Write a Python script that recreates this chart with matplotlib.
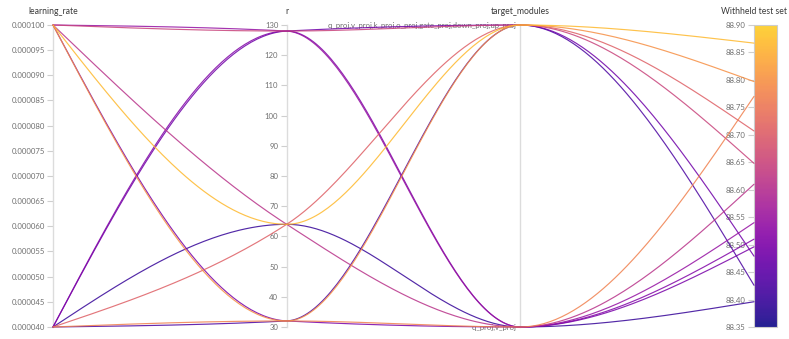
import numpy as np
import matplotlib
matplotlib.use("Agg")
import matplotlib.pyplot as plt
from matplotlib.colors import Normalize, ListedColormap
from matplotlib.cm import ScalarMappable

# runs: one entry per sweep run
learning_rate = [1e-4, 4e-5, 4e-5, 1e-4, 1e-4, 4e-5, 1e-4, 4e-5, 1e-4, 1e-4, 4e-5, 4e-5]
r = [64, 64, 64, 64, 128, 128, 128, 128, 32, 32, 32, 32]
target_modules = ["all", "all", "qv", "qv", "all", "all", "qv", "qv", "all", "qv", "all", "qv"]
withheld = [88.867, 88.707, 88.396, 88.61, 88.648, 88.479, 88.54, 88.51, 88.797, 88.496, 88.426, 88.77]

target_labels = {"all": "q_proj,v_proj,k_proj,o_proj,gate_proj,down_proj,up_proj",
                 "qv": "q_proj,v_proj"}
titles = ["learning_rate", "r", "target_modules", "Withheld test set"]
lr_ticks = [0.00004 + 0.000005 * i for i in range(13)]
r_ticks = list(range(30, 131, 10))
score_ticks = [88.35, 88.40, 88.45, 88.50, 88.55, 88.60, 88.65, 88.70, 88.75, 88.80, 88.85, 88.90]

W, H = 789, 339
X0, X3 = 53, 754
YT, YB = 25, 327
FONT = "Lato"


def monotone_curve(xs, ys, n=80):
    # same as d3 curveMonotoneX
    xs = np.asarray(xs, float)
    ys = np.asarray(ys, float)
    m = len(xs)
    t = np.zeros(m)
    for i in range(1, m - 1):
        h0 = xs[i] - xs[i - 1]
        h1 = xs[i + 1] - xs[i]
        s0 = (ys[i] - ys[i - 1]) / h0
        s1 = (ys[i + 1] - ys[i]) / h1
        p = (s0 * h1 + s1 * h0) / (h0 + h1)
        t[i] = (np.sign(s0) + np.sign(s1)) * min(abs(s0), abs(s1), 0.5 * abs(p))
    t[0] = (3 * (ys[1] - ys[0]) / (xs[1] - xs[0]) - t[1]) / 2
    t[-1] = (3 * (ys[-1] - ys[-2]) / (xs[-1] - xs[-2]) - t[-2]) / 2
    px, py = [], []
    u = np.linspace(0, 1, n)
    for i in range(m - 1):
        dx = (xs[i + 1] - xs[i]) / 3
        P = np.array([[xs[i], ys[i]],
                      [xs[i] + dx, ys[i] + dx * t[i]],
                      [xs[i + 1] - dx, ys[i + 1] - dx * t[i + 1]],
                      [xs[i + 1], ys[i + 1]]])
        b = ((1 - u) ** 3)[:, None] * P[0] + (3 * (1 - u) ** 2 * u)[:, None] * P[1] \
            + (3 * (1 - u) * u ** 2)[:, None] * P[2] + (u ** 3)[:, None] * P[3]
        px.extend(b[:, 0])
        py.extend(b[:, 1])
    return px, py


fig = plt.figure(figsize=(W / 100, H / 100), dpi=100)
left = X0 / W
bottom = 1 - YB / H
height = (YB - YT) / H
step = (X3 - X0) / 3


def vaxis(i, lo, hi, ticks, fmt):
    ax = fig.add_axes([(X0 + i * step) / W, bottom, 0.0001, height])
    ax.set_ylim(lo, hi)
    ax.set_xticks([])
    for s in ["top", "right", "bottom"]:
        ax.spines[s].set_visible(False)
    ax.spines["left"].set_color("#dcdcdc")
    ax.spines["left"].set_linewidth(1.0)
    if ticks is None:
        ax.set_yticks([])
    else:
        ax.set_yticks(ticks)
        ax.set_yticklabels([fmt(v) for v in ticks], fontsize=5.6, color="#6f6f6f", family=FONT)
        ax.tick_params(axis="y", length=4, width=0.8, color="#cfcfcf", pad=2)
    ax.patch.set_alpha(0)
    return ax


vaxis(0, 0.00004, 0.0001, lr_ticks, lambda v: f"{v:.6f}")
vaxis(1, 30, 130, r_ticks, lambda v: f"{v}")
tax = vaxis(2, 0, 1, None, None)
tax.text(0, 1, target_labels["all"] + "  ", transform=tax.transAxes, ha="right", va="center",
         fontsize=5.6, color="#6f6f6f", family=FONT)
tax.text(0, 0, target_labels["qv"] + "  ", transform=tax.transAxes, ha="right", va="center",
         fontsize=5.6, color="#6f6f6f", family=FONT)

norm = Normalize(88.35, 88.90)
# plasma without the green-yellow top end
cmap = ListedColormap(plt.get_cmap("plasma")(np.linspace(0, 0.9, 256)))
cax = fig.add_axes([X3 / W, bottom, 23 / W, height])
cb = fig.colorbar(ScalarMappable(norm=norm, cmap=cmap), cax=cax, ticks=score_ticks)
cb.solids.set_alpha(0.9)
cb.outline.set_edgecolor("#cccccc")
cb.outline.set_linewidth(0.8)
cax.yaxis.set_ticks_position("left")
cax.yaxis.set_label_position("left")
cax.set_yticklabels([f"{v:.2f}" for v in score_ticks], fontsize=5.6, color="#6f6f6f", family=FONT)
cax.tick_params(axis="y", length=4, width=0.8, color="#cfcfcf", pad=2)

for i, t in enumerate(titles):
    fig.text((X0 + i * step) / W, 1 - 11 / H, t, ha="center", va="center",
             fontsize=6.2, color="#3a3a3a", family=FONT)

# lines
ax = fig.add_axes([left, bottom, (X3 - X0) / W, height])
ax.set_xlim(0, 3)
ax.set_ylim(0, 1)
ax.axis("off")
ax.patch.set_alpha(0)
order = np.argsort(withheld)
for k in order:
    y = [(learning_rate[k] - 0.00004) / 0.00006,
         (r[k] - 30) / 100,
         1.0 if target_modules[k] == "all" else 0.0,
         (withheld[k] - 88.35) / 0.55]
    px, py = monotone_curve([0, 1, 2, 3], y)
    ax.plot(px, py, color=cmap(norm(withheld[k])), lw=0.85, alpha=0.85,
            clip_on=False, solid_capstyle="round")

fig.savefig("out.png", dpi=100)
